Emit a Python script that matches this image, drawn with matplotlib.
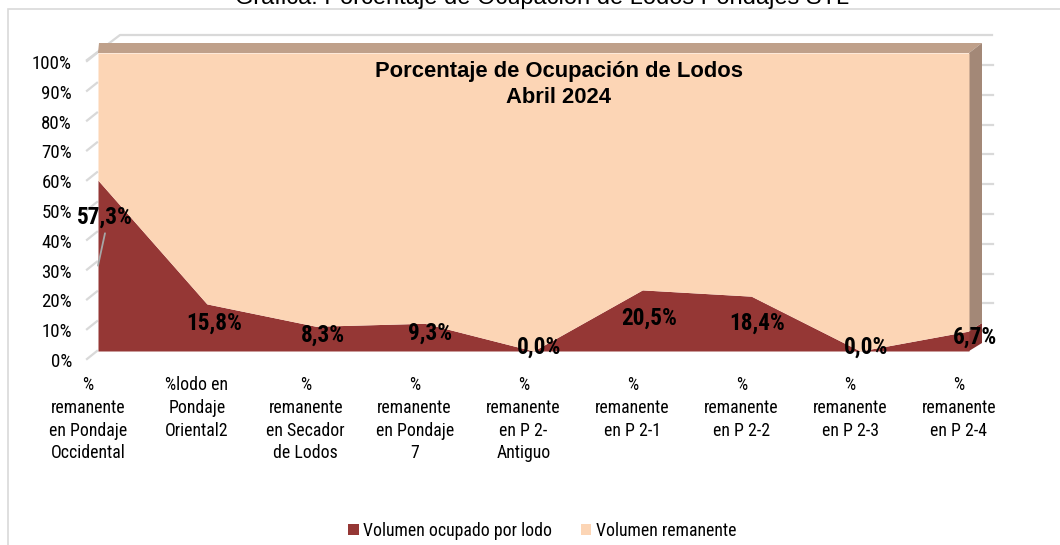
import numpy as np
import matplotlib
matplotlib.use("Agg")
import matplotlib.pyplot as plt
from matplotlib import font_manager
from matplotlib.patches import Polygon, Rectangle, Patch
from matplotlib.transforms import ScaledTranslation, blended_transform_factory

# data
categorias = [
    "%\nremanente\nen Pondaje\nOccidental",
    "%lodo en\nPondaje\nOriental2",
    "%\nremanente\nen Secador\nde Lodos",
    "%\nremanente\nen Pondaje\n7",
    "%\nremanente\nen P 2-\nAntiguo",
    "%\nremanente\nen P 2-1",
    "%\nremanente\nen P 2-2",
    "%\nremanente\nen P 2-3",
    "%\nremanente\nen P 2-4",
]
ocupado = [57.3, 15.8, 8.3, 9.3, 0.0, 20.5, 18.4, 0.0, 6.7]
remanente = [100 - v for v in ocupado]
etiquetas = ["57,3%", "15,8%", "8,3%", "9,3%", "0,0%", "20,5%", "18,4%", "0,0%", "6,7%"]
y_ticks = list(range(0, 101, 10))
y_labels = [f"{t}%" for t in y_ticks]

# label offsets in pixels (right, down) from each point
offsets = [(7, 37), (7, 19), (7, 9), (5, 10), (6, -4), (7, 28), (6, 27), (6, -4), (6, 6)]

c_lodo = "#953735"
c_rem = "#FCD5B5"
c_top = "#BFA08A"
c_side = "#A38877"
c_side_red = "#84302E"
c_grid = "#D9D9D9"

# look for a condensed font (the original uses Arial Narrow)
fonts = font_manager.fontManager.ttflist
names = {f.name for f in fonts}
if "Liberation Sans Narrow" in names:
    narrow = dict(family="Liberation Sans Narrow")
    k = 1.0
elif "Roboto Condensed" in names:
    narrow = dict(family="Roboto Condensed")
    k = 0.95
elif any(f.name == "DejaVu Sans" and f.stretch == "condensed" for f in fonts):
    narrow = dict(family="DejaVu Sans", stretch="condensed")
    k = 0.86
else:
    narrow = dict(family="Liberation Sans")
    k = 0.84

fig = plt.figure(figsize=(10.6, 5.45), dpi=100)
W, H = 1060, 545
ax = fig.add_axes([98 / W, (H - 351) / H, 871 / W, 298 / H])
ax.set_xlim(0, len(ocupado) - 1)
ax.set_ylim(0, 100)
ax.axis("off")

x = np.arange(len(ocupado))
ax.fill_between(x, 0, ocupado, color=c_lodo, lw=0, zorder=3)
ax.fill_between(x, ocupado, 100, color=c_rem, lw=0, zorder=3)

# pseudo 3d depth (pixels -> data units)
px_x = 871 / (len(ocupado) - 1)
px_y = 298 / 100
xmax = len(ocupado) - 1
dxr = 13 / px_x
dxl = 1 / px_x
dy_top = 10 / px_y
dy_bot = 8 / px_y

top = Polygon([(0, 100), (xmax, 100), (xmax + dxr, 100 + dy_top), (dxl, 100 + dy_top)],
              closed=True, facecolor=c_top, edgecolor="none", clip_on=False, zorder=2)
ax.add_patch(top)
last = ocupado[-1]
side_red = Polygon([(xmax, 0), (xmax, last), (xmax + dxr, last + dy_bot), (xmax + dxr, dy_bot)],
                   closed=True, facecolor=c_side_red, edgecolor="none", clip_on=False, zorder=2)
side_rem = Polygon([(xmax, last), (xmax, 100), (xmax + dxr, 100 + dy_top), (xmax + dxr, last + dy_bot)],
                   closed=True, facecolor=c_side, edgecolor="none", clip_on=False, zorder=2)
ax.add_patch(side_red)
ax.add_patch(side_rem)

# back wall edges
ax.plot([-11 / px_x, 22 / px_x, xmax + 23 / px_x],
        [100 - 7 / px_y, 100 + 18 / px_y, 100 + 18 / px_y],
        color=c_grid, lw=1.6, clip_on=False, zorder=1)
for t in y_ticks:
    ax.plot([-11 / px_x, -1 / px_x], [t - 8 / px_y, t], color=c_grid, lw=1.6,
            clip_on=False, zorder=1)
for t in y_ticks[2:]:
    ax.plot([xmax + 13 / px_x, xmax + 24 / px_x], [t - 12 / px_y] * 2, color=c_grid,
            lw=1.6, clip_on=False, zorder=1)

# y tick labels
for t, lab in zip(y_ticks, y_labels):
    ax.text(-26 / px_x, t - 11 / px_y, lab, ha="right", va="center",
            fontsize=13.5 * k * 1.06, color="#000000", **narrow)

# category labels
cat_tr = blended_transform_factory(ax.transData, ax.transAxes) + \
    ScaledTranslation(-10 / 100, -25 / 100, fig.dpi_scale_trans)
for i, c in enumerate(categorias):
    ax.text(i, 0, c, transform=cat_tr, ha="center", va="top", multialignment="center",
            fontsize=13.5 * k, linespacing=1.34, **narrow)

# data labels
for i, (v, lab, (ox, oy)) in enumerate(zip(ocupado, etiquetas, offsets)):
    tr = ax.transData + ScaledTranslation(ox / 100, -oy / 100, fig.dpi_scale_trans)
    ax.text(i, v, lab, transform=tr, ha="center", va="center", fontsize=16.5 * k * 1.07,
            fontweight="bold", zorder=6, **narrow)

# leader line for first label
lead_tr = ax.transData + ScaledTranslation(7 / 100, -53 / 100, fig.dpi_scale_trans)
ax.annotate("", xy=(0, ocupado[0] / 2), xycoords="data",
            xytext=(0, ocupado[0]), textcoords=lead_tr,
            arrowprops=dict(arrowstyle="-", color="#A6A6A6", lw=1.3,
                            shrinkA=0, shrinkB=0), zorder=5)

# chart titles
ax.text(0.529, 1 - 8 / 298, "Porcentaje de Ocupación de Lodos\nAbril 2024",
        transform=ax.transAxes, ha="center", va="top", fontsize=15.8,
        fontweight="bold", family=["Liberation Sans", "DejaVu Sans"], zorder=6,
        linespacing=1.3)
fig.text(542 / W, 1 - 4 / H, "Gráfica: Porcentaje de Ocupación de Lodos Pondajes STL",
         ha="center", va="baseline", fontsize=17,
         family=["Liberation Sans", "DejaVu Sans"])

# outer border
fig.add_artist(Rectangle((8 / W, -0.2), 2, 1.2 - 9 / H, transform=fig.transFigure,
                         fill=False, edgecolor=c_grid, lw=1.2))

# legend
handles = [Patch(facecolor=c_lodo, edgecolor="none", label="Volumen ocupado por lodo"),
           Patch(facecolor=c_rem, edgecolor="none", label="Volumen remanente")]
fig.legend(handles=handles, loc="center", bbox_to_anchor=(542 / W, 14 / H), ncol=2,
           frameon=False, prop=dict(size=13.5 * k, **narrow),
           handlelength=0.6, handleheight=0.6, handletextpad=0.25,
           columnspacing=1.6)

fig.savefig("out.png", dpi=100)
